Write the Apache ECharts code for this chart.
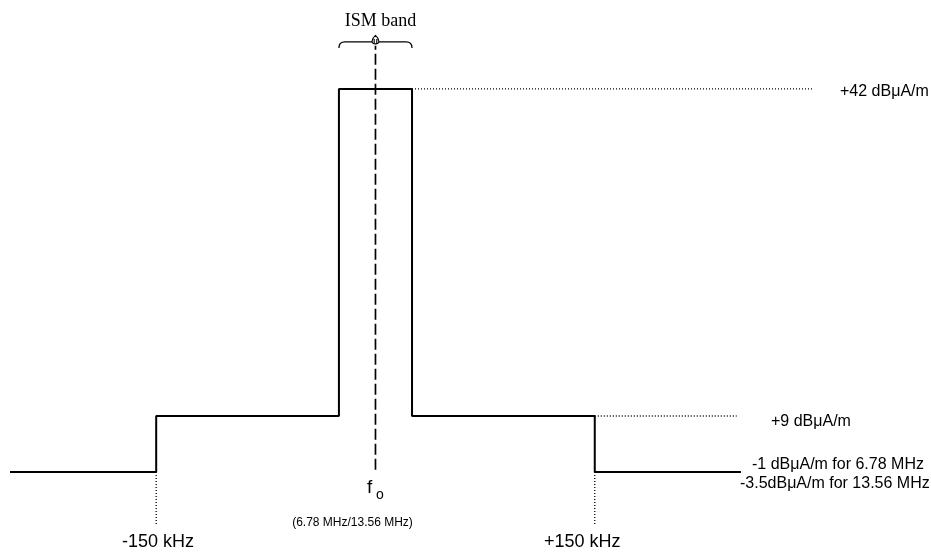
<!DOCTYPE html>
<html>
<head>
<meta charset="utf-8">
<script src="https://cdn.jsdelivr.net/npm/echarts@6/dist/echarts.min.js"></script>
<style>
html,body{margin:0;padding:0;background:#fff;}
#c{width:931px;height:554px;}
</style>
</head>
<body>
<div id="c"></div>
<script>
// Frequency offset from f0 in kHz (segment edges of the emission mask)
const xEdges = [-250, -150, -25, 25, 150, 250];
// Drawn (schematic) level of each segment (not to dB scale)
const segLevel = [0, 10, 68.4, 10, 0];
// Level labels
const levelLabels = ['+42 dB\u03bcA/m', '+9 dB\u03bcA/m', '-1 dB\u03bcA/m for 6.78 MHz', '-3.5dB\u03bcA/m for 13.56 MHz'];
// Frequency labels
const freqLabels = ['-150 kHz', '+150 kHz'];
// Dotted guide extents (kHz / schematic level)
const topGuideEnd = 300;
const midGuideEnd = 247;
const dropGuideLevel = -9.6;
// Centre line (f0) extent
const centreX = 0;
const centreLine = [0.4, 76.1];
// ISM band brace
const braceX = [-25, 25];
const braceTop = 76.8;

const stepData = [];
for (let i = 0; i < segLevel.length; i++) {
  stepData.push([xEdges[i], segLevel[i]]);
  stepData.push([xEdges[i + 1], segLevel[i]]);
}

const chart = echarts.init(document.getElementById('c'), null, {renderer: 'canvas'});
const dotted = {color: '#000', width: 1.3, type: [1, 2]};
const sans = '"Liberation Sans", Arial, sans-serif';

chart.setOption({
  animation: false,
  backgroundColor: '#fff',
  grid: {left: 10, right: 0, top: 24, bottom: 26, containLabel: false},
  xAxis: {type: 'value', min: -250, max: 380, show: false},
  yAxis: {type: 'value', min: -10, max: 80, show: false},
  series: [
    {type: 'line', data: stepData, symbol: 'none', silent: true,
     lineStyle: {color: '#000', width: 2}},
    {type: 'line', data: [[xEdges[3], segLevel[2]], [topGuideEnd, segLevel[2]]], symbol: 'none', silent: true, lineStyle: dotted},
    {type: 'line', data: [[xEdges[4], segLevel[3]], [midGuideEnd, segLevel[3]]], symbol: 'none', silent: true, lineStyle: dotted},
    {type: 'line', data: [[xEdges[1], segLevel[0]], [xEdges[1], dropGuideLevel]], symbol: 'none', silent: true, lineStyle: dotted},
    {type: 'line', data: [[xEdges[4], segLevel[4]], [xEdges[4], dropGuideLevel]], symbol: 'none', silent: true, lineStyle: dotted},
    {type: 'line', data: [[centreX, centreLine[0]], [centreX, centreLine[1]]], symbol: 'none', silent: true,
     lineStyle: {color: '#000', width: 1.7, type: [11, 4]}},
    {type: 'custom', silent: true, data: [[centreX, braceTop]],
     renderItem: function (params, api) {
       const L = api.coord([braceX[0], braceTop]);
       const R = api.coord([braceX[1], braceTop]);
       const M = api.coord([centreX, braceTop]);
       const y = L[1];
       const m = M[0];
       const brace = 'M' + L[0] + ' ' + (y + 6) + ' Q' + L[0] + ' ' + y + ' ' + (L[0] + 6) + ' ' + y +
         ' L' + (m - 3) + ' ' + y + ' M' + (m + 3) + ' ' + y + ' L' + (R[0] - 6) + ' ' + y +
         ' Q' + R[0] + ' ' + y + ' ' + R[0] + ' ' + (y + 6);
       const bulb = 'M' + m + ' ' + (y + 2) +
         ' C' + (m - 5) + ' ' + (y + 2) + ' ' + (m - 4) + ' ' + (y - 3) + ' ' + m + ' ' + (y - 6.5) +
         ' C' + (m + 4) + ' ' + (y - 3) + ' ' + (m + 5) + ' ' + (y + 2) + ' ' + m + ' ' + (y + 2) + ' Z' +
         ' M' + (m - 1.3) + ' ' + (y - 3) + ' L' + (m - 1.3) + ' ' + (y + 1.5) +
         ' M' + (m + 1.3) + ' ' + (y - 3) + ' L' + (m + 1.3) + ' ' + (y + 1.5);
       return {type: 'group', children: [
         {type: 'path', shape: {pathData: brace}, style: {fill: 'none', stroke: '#000', lineWidth: 1.3}},
         {type: 'path', shape: {pathData: bulb}, style: {fill: '#fff', stroke: '#000', lineWidth: 1.1}}
       ]};
     }}
  ],
  graphic: [
    {type: 'text', x: 380.5, y: 21, style: {text: 'ISM band', font: '18px "Liberation Serif", "Times New Roman", serif', fill: '#000', align: 'center', verticalAlign: 'middle'}},
    {type: 'text', x: 840, y: 91.5, style: {text: levelLabels[0], font: '16px ' + sans, fill: '#000', align: 'left', verticalAlign: 'middle'}},
    {type: 'text', x: 771, y: 421.4, style: {text: levelLabels[1], font: '16px ' + sans, fill: '#000', align: 'left', verticalAlign: 'middle'}},
    {type: 'text', x: 752, y: 465, style: {text: levelLabels[2], font: '16px ' + sans, fill: '#000', align: 'left', verticalAlign: 'middle'}},
    {type: 'text', x: 740, y: 483.5, style: {text: levelLabels[3], font: '16px ' + sans, fill: '#000', align: 'left', verticalAlign: 'middle'}},
    {type: 'text', x: 367, y: 487.5, style: {text: 'f', font: '19px ' + sans, fill: '#000', align: 'left', verticalAlign: 'middle'}},
    {type: 'text', x: 376, y: 495, style: {text: 'o', font: '14px ' + sans, fill: '#000', align: 'left', verticalAlign: 'middle'}},
    {type: 'text', x: 352.5, y: 523, style: {text: '(6.78 MHz/13.56 MHz)', font: '12px ' + sans, fill: '#000', align: 'center', verticalAlign: 'middle'}},
    {type: 'text', x: 122, y: 542, style: {text: freqLabels[0], font: '18px ' + sans, fill: '#000', align: 'left', verticalAlign: 'middle'}},
    {type: 'text', x: 544, y: 542, style: {text: freqLabels[1], font: '18px ' + sans, fill: '#000', align: 'left', verticalAlign: 'middle'}}
  ]
});
</script>
</body>
</html>
